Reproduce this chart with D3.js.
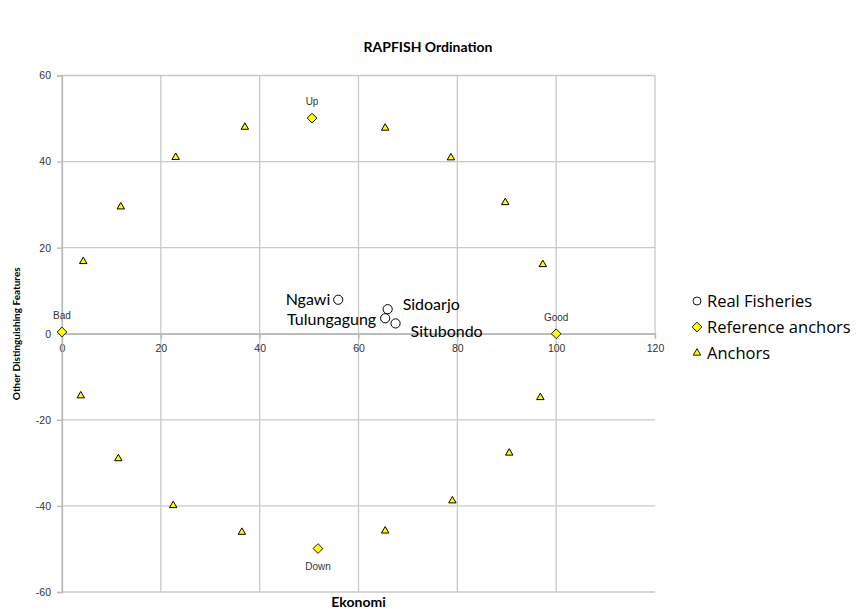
<!DOCTYPE html>
<html>
<head>
<meta charset="utf-8">
<script src="https://cdn.jsdelivr.net/npm/d3@7"></script>
<style>
  body { margin: 0; background: #fff; }
  svg { display: block; }
</style>
</head>
<body>
<script>
// real fisheries
var fishNames = ["Ngawi", "Sidoarjo", "Tulungagung", "Situbondo"];
var fishX = [55.9, 65.9, 65.4, 67.5];
var fishY = [7.9, 5.7, 3.6, 2.4];

// reference anchors
var refNames = ["Good", "Bad", "Up", "Down"];
var refX = [100, 0, 50.6, 51.8];
var refY = [0, 0.4, 50.1, -49.9];

// anchors (triangles)
var ancX = [4.3, 11.9, 23.0, 37.0, 65.4, 78.7, 89.7, 97.3, 96.8, 90.5, 79.0, 65.4, 36.4, 22.5, 11.4, 3.8];
var ancY = [16.8, 29.5, 41.0, 48.0, 47.8, 40.9, 30.5, 16.1, -14.8, -27.7, -38.8, -45.8, -46.1, -39.9, -29.0, -14.4];

var xTicks = [0, 20, 40, 60, 80, 100, 120];
var yTicks = [-60, -40, -20, 0, 20, 40, 60];
var legendNames = ["Real Fisheries", "Reference anchors", "Anchors"];

var W = 856, H = 609;
var margin = {top: 75.5, right: 201, bottom: 17, left: 62},
    width = W - margin.left - margin.right,
    height = H - margin.top - margin.bottom;

var svg = d3.select("body").append("svg")
    .attr("width", W)
    .attr("height", H);

var g = svg.append("g")
    .attr("transform", "translate(" + margin.left + "," + margin.top + ")");

var xScale = d3.scaleLinear().domain([0, 120]).range([0, width]);
var yScale = d3.scaleLinear().domain([-60, 60]).range([height, 0]);

var gridColor = "#c8c8c8";

// horizontal grid
g.selectAll(".hgrid")
    .data(yTicks)
    .enter()
    .append("line")
    .attr("x1", 0)
    .attr("x2", width)
    .attr("y1", function(d) { return yScale(d); })
    .attr("y2", function(d) { return yScale(d); })
    .attr("stroke", gridColor)
    .attr("stroke-width", 1.3);

// vertical grid (last one only reaches the x axis)
g.selectAll(".vgrid")
    .data(xTicks)
    .enter()
    .append("line")
    .attr("x1", function(d) { return xScale(d); })
    .attr("x2", function(d) { return xScale(d); })
    .attr("y1", 0)
    .attr("y2", function(d) { return d == 120 ? yScale(0) : height; })
    .attr("stroke", gridColor)
    .attr("stroke-width", 1.3);

// axes - plain hyphen for negatives like the original
var fmt = function(d) { return String(d); };
var xAxis = d3.axisBottom(xScale).tickValues(xTicks).tickSize(5).tickPadding(6).tickFormat(fmt);
var yAxis = d3.axisLeft(yScale).tickValues(yTicks).tickSize(5).tickPadding(6).tickFormat(fmt);

var gx = g.append("g")
    .attr("transform", "translate(0," + yScale(0) + ")")
    .call(xAxis);
var gy = g.append("g").call(yAxis);

[gx, gy].forEach(function(a) {
    a.select(".domain").attr("stroke", "#b8b8b8").attr("stroke-width", 1.3);
    a.selectAll(".tick line").attr("stroke", "#b8b8b8").attr("stroke-width", 1.3);
    a.selectAll("text")
        .attr("font-family", "'Liberation Sans', Arial, sans-serif")
        .attr("font-size", "10.5px")
        .attr("fill", "#333");
});

// anchors
var triangle = d3.symbol().type(d3.symbolTriangle).size(24);
g.selectAll(".anchor")
    .data(ancX)
    .enter()
    .append("path")
    .attr("d", triangle)
    .attr("transform", function(d, i) {
        return "translate(" + xScale(d) + "," + yScale(ancY[i]) + ")";
    })
    .attr("fill", "#ffff00")
    .attr("stroke", "#000")
    .attr("stroke-width", 1);

// reference anchors
var diamond = d3.symbol().type(d3.symbolDiamond2).size(60);
g.selectAll(".ref")
    .data(refX)
    .enter()
    .append("path")
    .attr("d", diamond)
    .attr("transform", function(d, i) {
        return "translate(" + xScale(d) + "," + yScale(refY[i]) + ")";
    })
    .attr("fill", "#ffff00")
    .attr("stroke", "#000")
    .attr("stroke-width", 0.9);

g.selectAll(".refLabel")
    .data(refNames)
    .enter()
    .append("text")
    .attr("x", function(d, i) { return xScale(refX[i]); })
    .attr("y", function(d, i) { return yScale(refY[i]); })
    .attr("dy", function(d) { return d == "Down" ? 21 : -13; })
    .attr("text-anchor", "middle")
    .attr("font-family", "'Liberation Sans', Arial, sans-serif")
    .attr("font-size", "10px")
    .attr("fill", "#333")
    .text(function(d) { return d; });

// real fisheries
g.selectAll(".fish")
    .data(fishX)
    .enter()
    .append("circle")
    .attr("cx", function(d) { return xScale(d); })
    .attr("cy", function(d, i) { return yScale(fishY[i]); })
    .attr("r", 4.6)
    .attr("fill", "#fff")
    .attr("stroke", "#000")
    .attr("stroke-width", 1);

var labelOff = {
    "Ngawi": [-8, 5, "end"],
    "Sidoarjo": [15, 1, "start"],
    "Tulungagung": [-9, 7, "end"],
    "Situbondo": [15, 14, "start"]
};
g.selectAll(".fishLabel")
    .data(fishNames)
    .enter()
    .append("text")
    .attr("x", function(d, i) { return xScale(fishX[i]) + labelOff[d][0]; })
    .attr("y", function(d, i) { return yScale(fishY[i]) + labelOff[d][1]; })
    .attr("text-anchor", function(d) { return labelOff[d][2]; })
    .attr("font-family", "Lato, 'Open Sans', sans-serif")
    .attr("font-size", "16px")
    .attr("fill", "#000")
    .text(function(d) { return d; });

// titles
svg.append("text")
    .attr("x", 428)
    .attr("y", 52)
    .attr("text-anchor", "middle")
    .attr("font-family", "Lato, 'Open Sans', sans-serif")
    .attr("font-weight", "bold")
    .attr("font-size", "14px")
    .text("RAPFISH Ordination");

svg.append("text")
    .attr("x", margin.left + width / 2)
    .attr("y", 607)
    .attr("text-anchor", "middle")
    .attr("font-family", "Lato, 'Open Sans', sans-serif")
    .attr("font-weight", "bold")
    .attr("font-size", "14px")
    .text("Ekonomi");

svg.append("text")
    .attr("transform", "rotate(-90)")
    .attr("x", -(margin.top + yScale(0)))
    .attr("y", 20)
    .attr("text-anchor", "middle")
    .attr("font-family", "Lato, 'Open Sans', sans-serif")
    .attr("font-weight", "bold")
    .attr("font-size", "10px")
    .text("Other Distinguishing Features");

// legend
var legend = svg.append("g").attr("transform", "translate(697,301)");
var rows = legend.selectAll(".leg")
    .data(legendNames)
    .enter()
    .append("g")
    .attr("transform", function(d, i) { return "translate(0," + (i * 26) + ")"; });

rows.append("path")
    .attr("d", function(d, i) {
        if (i == 0) return d3.symbol().type(d3.symbolCircle).size(50)();
        if (i == 1) return diamond();
        return triangle();
    })
    .attr("fill", function(d, i) { return i == 0 ? "#fff" : "#ffff00"; })
    .attr("stroke", "#000")
    .attr("stroke-width", 0.9);

rows.append("text")
    .attr("x", 10)
    .attr("dy", "0.35em")
    .attr("font-family", "'Open Sans', Lato, sans-serif")
    .attr("font-size", "16.5px")
    .attr("fill", "#000")
    .text(function(d) { return d; });
</script>
</body>
</html>
